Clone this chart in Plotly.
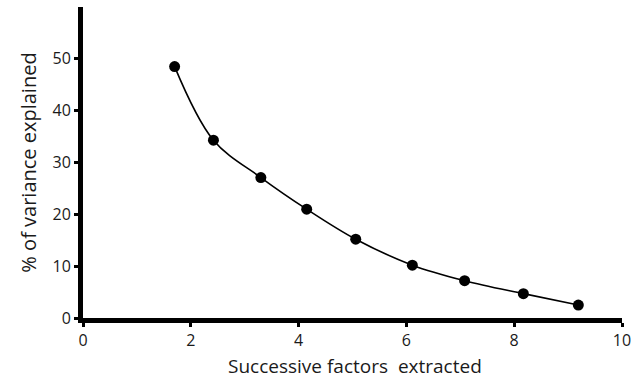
import plotly.graph_objects as go

# Successive factors and the share of variance each explains
factors = [1.70, 2.42, 3.30, 4.15, 5.06, 6.11, 7.08, 8.17, 9.19]
variance_pct = [48.5, 34.3, 27.1, 21.0, 15.2, 10.2, 7.2, 4.7, 2.5]

x_ticks = [0, 2, 4, 6, 8, 10]
y_ticks = [0, 10, 20, 30, 40, 50]

x_title = "Successive factors\u00a0\u00a0extracted"
y_title = "% of variance explained"

font_family = "Open Sans, Lato, sans-serif"
text_color = "#1a1a1a"

fig = go.Figure(
    go.Scatter(
        x=factors,
        y=variance_pct,
        mode="lines+markers",
        line=dict(color="black", width=1.6, shape="spline", smoothing=1.0),
        marker=dict(color="black", size=11, symbol="circle"),
        showlegend=False,
    )
)

axis_common = dict(
    showline=True,
    linecolor="black",
    linewidth=5,
    ticks="outside",
    ticklen=4,
    tickwidth=3,
    tickcolor="black",
    showgrid=False,
    zeroline=False,
    tickfont=dict(family=font_family, size=16, color=text_color),
)

fig.update_xaxes(range=[0, 10], tickvals=x_ticks, **axis_common)
fig.update_yaxes(
    range=[0, 60],
    tickvals=y_ticks,
    title=dict(text=y_title, font=dict(family=font_family, size=20, color=text_color), standoff=12),
    **axis_common,
)

# x-axis title sits under the tick labels, flush with the bottom edge
fig.add_annotation(
    text=x_title,
    xref="paper", yref="paper",
    x=0.505, y=-0.198,
    xanchor="center", yanchor="bottom",
    showarrow=False,
    borderpad=0,
    font=dict(family=font_family, size=19, color=text_color),
)

fig.update_layout(
    width=638,
    height=380,
    margin=dict(l=83, r=12, t=7, b=62),
    plot_bgcolor="white",
    paper_bgcolor="white",
)

fig.write_html("out.html")
